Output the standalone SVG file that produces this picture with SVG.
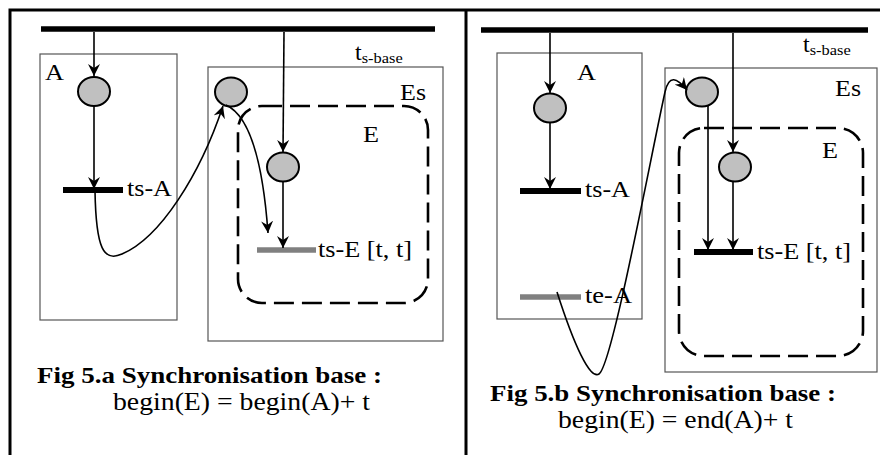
<svg xmlns="http://www.w3.org/2000/svg" width="880" height="455" viewBox="0 0 880 455">
<style>
  .frame{fill:none;stroke:#000;stroke-width:3}
  .bar{stroke:#000;stroke-width:5.5}
  .box{fill:none;stroke:#555;stroke-width:1.2}
  .dash{fill:none;stroke:#000;stroke-width:2.6;stroke-dasharray:20 8}
  .place{fill:#c0c0c0;stroke:#000;stroke-width:2}
  .tsb{stroke:#000;stroke-width:6}
  .tsg{stroke:#808080;stroke-width:5.5}
  .c{fill:none;stroke:#000;stroke-width:1.6}
  .t{font-family:"Liberation Serif","Times New Roman",serif;font-size:24px;fill:#000}
  .sub{font-family:"Liberation Serif","Times New Roman",serif;font-size:15px;fill:#000}
  .cap{font-family:"Liberation Serif","Times New Roman",serif;font-size:24px;font-weight:bold;fill:#000}
  .eq{font-family:"Liberation Serif","Times New Roman",serif;font-size:26px;fill:#000}
</style>
<defs>
  <marker id="ah" markerUnits="userSpaceOnUse" viewBox="0 0 12 12" refX="12" refY="6" markerWidth="12" markerHeight="12" orient="auto">
    <path d="M0,0 L12,6 L0,12 L4,6 z" fill="#000"/>
  </marker>
</defs>
<rect width="880" height="455" fill="#fff"/>
<g id="frame">
  <path class="frame" d="M10,455 V10 H880"/>
  <path class="frame" d="M466,10 V455"/>
</g>
<!-- left panel -->
<g id="base-a">
  <line class="bar" x1="41" y1="29" x2="435" y2="29"/>
  <text class="t" x="355" y="60">t<tspan class="sub" dy="3" textLength="41" lengthAdjust="spacingAndGlyphs">s-base</tspan></text>
</g>
<g id="boxA-a">
  <rect class="box" x="40" y="54" width="137" height="266"/>
  <text class="t" x="45" y="80" textLength="19" lengthAdjust="spacingAndGlyphs">A</text>
</g>
<g id="placeA-a"><ellipse class="place" cx="94" cy="91.5" rx="16" ry="14.5"/></g>
<g id="tsA-a">
  <line class="tsb" x1="63" y1="190" x2="123" y2="190"/>
  <text class="t" x="127" y="196" textLength="45" lengthAdjust="spacingAndGlyphs">ts-A</text>
</g>
<g id="boxEs-a">
  <rect class="box" x="208" y="67" width="235" height="274"/>
  <text class="t" x="400" y="100" textLength="26" lengthAdjust="spacingAndGlyphs">Es</text>
</g>
<g id="placeEs-a"><ellipse class="place" cx="231" cy="92" rx="16" ry="14.5"/></g>
<g id="boxE-a">
  <rect class="dash" x="238" y="106" width="190" height="197" rx="24" ry="24"/>
  <text class="t" x="363" y="142" textLength="16" lengthAdjust="spacingAndGlyphs">E</text>
</g>
<g id="placeE-a"><ellipse class="place" cx="283" cy="167" rx="16" ry="14.5"/></g>
<g id="tsE-a">
  <line class="tsg" x1="257" y1="250" x2="316" y2="250"/>
  <text class="t" x="318" y="257" textLength="94" lengthAdjust="spacingAndGlyphs">ts-E [t, t]</text>
</g>
<g id="caption-a">
  <text class="cap" x="37" y="383" textLength="345" lengthAdjust="spacingAndGlyphs">Fig 5.a  Synchronisation base :</text>
  <text class="eq" x="113" y="410" textLength="257" lengthAdjust="spacingAndGlyphs">begin(E) = begin(A)+ t</text>
</g>
<!-- right panel -->
<g id="base-b">
  <line class="bar" x1="481" y1="30" x2="868" y2="30"/>
  <text class="t" x="803" y="52">t<tspan class="sub" dy="3" textLength="41" lengthAdjust="spacingAndGlyphs">s-base</tspan></text>
</g>
<g id="boxA-b">
  <rect class="box" x="497" y="53" width="145" height="266"/>
  <text class="t" x="577" y="80" textLength="19" lengthAdjust="spacingAndGlyphs">A</text>
</g>
<g id="placeA-b"><ellipse class="place" cx="550" cy="108" rx="16" ry="14.5"/></g>
<g id="tsA-b">
  <line class="tsb" x1="520" y1="191" x2="581" y2="191"/>
  <text class="t" x="585" y="197" textLength="45" lengthAdjust="spacingAndGlyphs">ts-A</text>
</g>
<g id="teA-b">
  <line class="tsg" x1="520" y1="297" x2="581" y2="297"/>
  <text class="t" x="585" y="303" textLength="47" lengthAdjust="spacingAndGlyphs">te-A</text>
</g>
<g id="boxEs-b">
  <rect class="box" x="665" y="68" width="212" height="304"/>
  <text class="t" x="835" y="96" textLength="26" lengthAdjust="spacingAndGlyphs">Es</text>
</g>
<g id="placeEs-b"><ellipse class="place" cx="702" cy="92" rx="16" ry="14.5"/></g>
<g id="boxE-b">
  <rect class="dash" x="679" y="128" width="184" height="228" rx="25" ry="25"/>
  <text class="t" x="822" y="158" textLength="16" lengthAdjust="spacingAndGlyphs">E</text>
</g>
<g id="placeE-b"><ellipse class="place" cx="735" cy="167" rx="16" ry="14.5"/></g>
<g id="tsE-b">
  <line class="tsb" x1="694" y1="252" x2="753" y2="252"/>
  <text class="t" x="757" y="259" textLength="94" lengthAdjust="spacingAndGlyphs">ts-E [t, t]</text>
</g>
<g id="caption-b">
  <text class="cap" x="490" y="401" textLength="346" lengthAdjust="spacingAndGlyphs">Fig 5.b  Synchronisation base :</text>
  <text class="eq" x="558" y="428" textLength="235" lengthAdjust="spacingAndGlyphs">begin(E) = end(A)+ t</text>
</g>
<g id="connectors">
  <!-- left -->
  <line class="c" x1="94" y1="32" x2="94" y2="76" marker-end="url(#ah)"/>
  <line class="c" x1="94" y1="106" x2="94" y2="189" marker-end="url(#ah)"/>
  <path class="c" d="M95,191 C96,250 104,262 122,254 C160,238 200,175 223,106" marker-end="url(#ah)"/>
  <path class="c" d="M226,105 C246,114 262,150 268,233" marker-end="url(#ah)"/>
  <line class="c" x1="284" y1="32" x2="283" y2="152" marker-end="url(#ah)"/>
  <line class="c" x1="283" y1="182" x2="283" y2="248" marker-end="url(#ah)"/>
  <!-- right -->
  <line class="c" x1="550" y1="33" x2="550" y2="93" marker-end="url(#ah)"/>
  <line class="c" x1="550" y1="123" x2="550" y2="189" marker-end="url(#ah)"/>
  <path class="c" d="M557,292 C574,345 590,380 599,374 C612,366 650,160 665,92 C669,74 677,78 687,90" marker-end="url(#ah)"/>
  <line class="c" x1="708" y1="106" x2="708" y2="250" marker-end="url(#ah)"/>
  <line class="c" x1="733" y1="33" x2="733" y2="152" marker-end="url(#ah)"/>
  <line class="c" x1="733" y1="182" x2="733" y2="250" marker-end="url(#ah)"/>
</g>
</svg>
